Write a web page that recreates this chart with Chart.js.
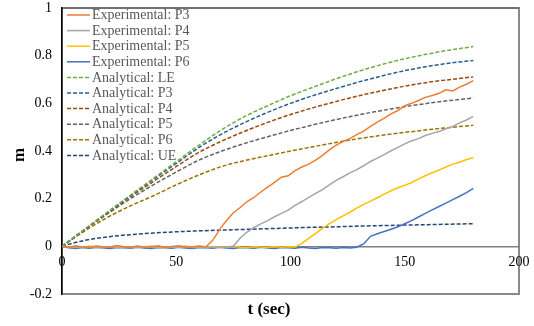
<!DOCTYPE html>
<html>
<head>
<meta charset="utf-8">
<script src="https://cdn.jsdelivr.net/npm/chart.js@4.4.1/dist/chart.umd.min.js"></script>
<style>
html,body{margin:0;padding:0;background:#fff;}
#wrap{width:534px;height:326px;}
</style>
</head>
<body>
<div id="wrap"><canvas id="c" width="534" height="326"></canvas></div>
<script>
// ---- data ----
const tAnalytical = [0,5,10,20,30,40,50,60,70,80,90,100,110,120,130,140,150,160,170,180];
const anLE = [0,0.036,0.072,0.144,0.215,0.285,0.355,0.425,0.49,0.545,0.59,0.632,0.668,0.703,0.735,0.763,0.787,0.807,0.824,0.838];
const anP3 = [0,0.036,0.072,0.143,0.213,0.281,0.348,0.415,0.472,0.52,0.562,0.6,0.633,0.662,0.69,0.715,0.737,0.755,0.769,0.78];
const anP4 = [0,0.0355,0.071,0.141,0.208,0.272,0.335,0.395,0.442,0.483,0.52,0.553,0.582,0.608,0.632,0.653,0.672,0.688,0.7,0.711];
const anP5 = [0,0.035,0.07,0.137,0.2,0.258,0.312,0.362,0.4,0.432,0.46,0.486,0.51,0.532,0.552,0.57,0.586,0.6,0.612,0.622];
const anP6 = [0,0.033,0.065,0.122,0.17,0.212,0.258,0.3,0.335,0.36,0.38,0.4,0.418,0.436,0.452,0.466,0.478,0.489,0.499,0.508];
const anUE = [0,0.014,0.025,0.04,0.049,0.056,0.061,0.065,0.068,0.071,0.074,0.077,0.08,0.082,0.085,0.087,0.089,0.091,0.093,0.095];

const tExperimental = [0,3,6,9,12,15,18,21,24,27,30,33,36,39,42,45,48,51,54,57,60,63,66,69,72,75,78,81,84,87,90,93,96,99,102,105,108,111,114,117,120,123,126,129,132,135,138,141,144,147,150,153,156,159,162,165,168,171,174,177,180];
const exP3 = [0,-0.004,0.002,-0.003,-0.005,0.001,-0.002,-0.004,0.003,-0.002,-0.004,0.001,-0.003,-0.002,0.002,-0.004,-0.001,0.002,-0.003,-0.002,0.001,-0.002,
  0.025,0.071,0.108,0.141,0.163,0.188,0.205,0.228,0.248,0.268,0.29,0.296,0.318,0.333,0.345,0.362,0.382,0.405,0.425,0.44,0.452,0.469,0.483,0.503,0.521,0.538,0.556,0.57,0.59,0.6,0.612,0.625,0.633,0.642,0.657,0.652,0.668,0.68,0.695];
const exP4 = [0,-0.003,-0.005,-0.002,-0.004,-0.006,-0.003,-0.002,-0.005,-0.004,-0.002,-0.005,-0.003,-0.004,-0.006,-0.002,-0.004,-0.003,-0.005,-0.002,-0.004,-0.003,-0.005,-0.002,-0.004,
  0.0,0.035,0.06,0.079,0.094,0.108,0.124,0.138,0.152,0.172,0.188,0.205,0.222,0.238,0.258,0.277,0.292,0.308,0.322,0.338,0.356,0.37,0.385,0.401,0.415,0.43,0.443,0.452,0.465,0.474,0.482,0.493,0.503,0.518,0.53,0.545];
const exP5 = [0,-0.004,-0.001,-0.005,0.001,-0.003,-0.006,-0.002,0.001,-0.004,-0.005,-0.001,-0.003,0.001,-0.004,-0.006,-0.002,-0.003,0.001,-0.005,-0.002,-0.004,-0.001,-0.005,-0.003,0,-0.004,-0.006,-0.002,-0.003,-0.005,-0.001,-0.004,-0.002,-0.003,
  0.012,0.033,0.054,0.075,0.095,0.112,0.128,0.143,0.16,0.176,0.19,0.204,0.219,0.233,0.246,0.256,0.268,0.283,0.296,0.309,0.32,0.333,0.345,0.353,0.364,0.372];
const exP6 = [0,-0.006,-0.009,-0.005,-0.008,-0.004,-0.007,-0.009,-0.005,-0.006,-0.008,-0.004,-0.007,-0.009,-0.005,-0.006,-0.008,-0.004,-0.007,-0.009,-0.005,-0.006,-0.008,-0.004,-0.007,-0.009,-0.005,-0.006,-0.008,-0.004,-0.007,-0.009,-0.005,-0.006,-0.008,-0.004,-0.007,-0.009,-0.005,-0.006,-0.008,-0.005,-0.007,-0.004,
  0.01,0.042,0.053,0.062,0.072,0.082,0.095,0.108,0.123,0.138,0.153,0.167,0.181,0.196,0.21,0.225,0.243];

const xTicks = [0,50,100,150,200];
const yTicks = [-0.2,0,0.2,0.4,0.6,0.8,1];
const seriesLabels = ['Experimental: P3','Experimental: P4','Experimental: P5','Experimental: P6',
  'Analytical: LE','Analytical: P3','Analytical: P4','Analytical: P5','Analytical: P6','Analytical: UE'];

// ---- build datasets ----
function pts(ts, vs){ return ts.map((t,i)=>({x:t,y:vs[i]})); }
const expColors = ['#ED7D31','#A5A5A5','#FFC000','#4472C4'];
const anColors = ['#70AD47','#255E91','#9E480E','#636363','#997300','#264478'];
const expData = [exP3,exP4,exP5,exP6];
const anData = [anLE,anP3,anP4,anP5,anP6,anUE];
const datasets = [];
expData.forEach((v,i)=>datasets.push({label:seriesLabels[i],data:pts(tExperimental,v),borderColor:expColors[i],borderWidth:1.5,pointRadius:0,tension:0,fill:false}));
anData.forEach((v,i)=>datasets.push({label:seriesLabels[4+i],data:pts(tAnalytical,v),borderColor:anColors[i],borderWidth:1.5,borderDash:[4,2],pointRadius:0,cubicInterpolationMode:'monotone',fill:false}));

const FONT = "'Liberation Serif','Times New Roman',serif";

function zeroPad(s){ s.paddingLeft = 0; s.paddingRight = 0; s.paddingTop = 0; s.paddingBottom = 0; }

const framePlugin = {
  id:'frame',
  beforeDraw(chart){
    const a = chart.chartArea, ctx = chart.ctx;
    ctx.save();
    ctx.strokeStyle = '#8A8A8A';
    ctx.lineWidth = 2;
    ctx.strokeRect(a.left, a.top, a.right-a.left, a.bottom-a.top);
    ctx.strokeStyle = '#595959';
    ctx.lineWidth = 1.2;
    ctx.beginPath(); ctx.moveTo(a.left, a.top); ctx.lineTo(a.right, a.top); ctx.stroke();
    ctx.restore();
  },
  afterDraw(chart){
    const ctx = chart.ctx, a = chart.chartArea;
    ctx.save();
    // legend
    ctx.font = '14px ' + FONT;
    ctx.textBaseline = 'middle';
    chart.data.datasets.forEach((ds,i)=>{
      const y = 15 + i*15.6;
      ctx.strokeStyle = ds.borderColor;
      ctx.lineWidth = 1.5;
      ctx.setLineDash(ds.borderDash || []);
      ctx.beginPath(); ctx.moveTo(a.left+5, y); ctx.lineTo(a.left+28, y); ctx.stroke();
      ctx.setLineDash([]);
      ctx.fillStyle = '#595959';
      ctx.textAlign = 'left';
      ctx.fillText(ds.label, a.left+30, y+0.5);
    });
    // axis titles
    ctx.fillStyle = '#000';
    ctx.font = 'bold 17px ' + FONT;
    ctx.textAlign = 'center';
    ctx.fillText('t (sec)', 269, 310);
    ctx.translate(20, 155);
    ctx.rotate(-Math.PI/2);
    ctx.fillText('m', 0, 0);
    ctx.restore();
  }
};

new Chart(document.getElementById('c'), {
  type:'line',
  data:{datasets},
  options:{
    responsive:false,
    animation:false,
    devicePixelRatio:1,
    layout:{padding:{left:0,right:15,top:8,bottom:32}},
    plugins:{legend:{display:false},tooltip:{enabled:false},title:{display:false}},
    scales:{
      x:{
        type:'linear', min:0, max:200,
        position:{y:0},
        grid:{display:false, drawTicks:false},
        border:{display:true,color:'#808080',width:1.5},
        afterBuildTicks(s){ s.ticks = xTicks.map(v=>({value:v})); },
        afterFit: zeroPad,
        ticks:{color:'#000',font:{family:FONT,size:14},padding:8,maxRotation:0}
      },
      y:{
        type:'linear', min:-0.2, max:1,
        grid:{display:false, drawTicks:false},
        border:{display:true,color:'#000',width:1.5},
        afterBuildTicks(s){ s.ticks = yTicks.map(v=>({value:v})); },
        afterFit(s){ s.width = 62; zeroPad(s); },
        ticks:{color:'#000',font:{family:FONT,size:14},padding:10,
          callback:(v)=>String(Math.round(v*10)/10)}
      }
    }
  },
  plugins:[framePlugin]
});
</script>
</body>
</html>
